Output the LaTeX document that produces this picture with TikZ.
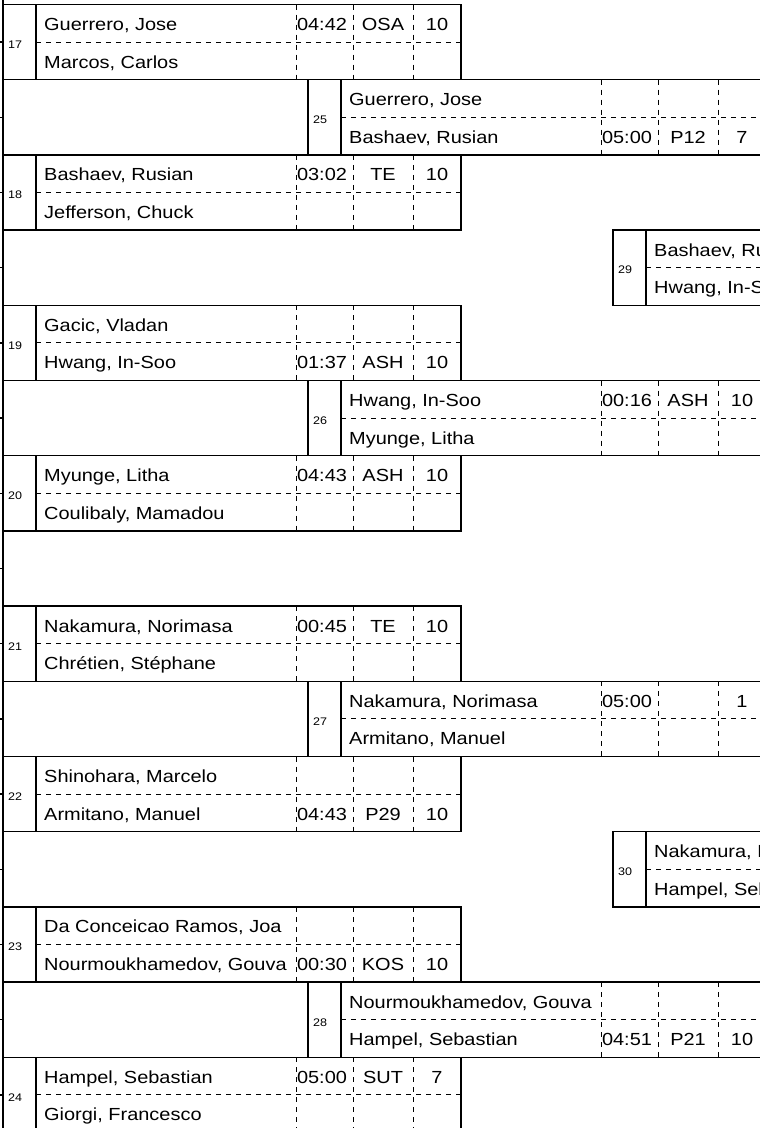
\documentclass[tikz,border=0pt]{standalone}
\usepackage{fontspec}
\setmainfont[FakeStretch=1.14]{Liberation Sans}
\tikzset{
  frame/.style={line width=1.3pt, line cap=rect},
  divline/.style={line width=0.9pt, dash pattern=on 5pt off 5pt},
  nm/.style={anchor=base west, inner sep=0pt, font=\fontsize{17.5}{20}\selectfont},
  cell/.style={anchor=base, inner sep=0pt, font=\fontsize{17.5}{20}\selectfont},
  numlab/.style={anchor=west, inner sep=0pt, font=\fontsize{11}{13}\selectfont},
}
% row, left x, number
\newcommand\matchbox[3]{%
  \pgfmathsetmacro\yt{4.5+75.2*#1}%
  \pgfmathsetmacro\yb{\yt+75.2}%
  \pgfmathsetmacro\ym{\yt+37.6}%
  \pgfmathsetmacro\xl{#2}%
  \draw[frame] (\xl,\yt) rectangle ({\xl+458},\yb);
  \draw[frame] ({\xl+33},\yt) -- ({\xl+33},\yb);
  \draw[divline] ({\xl+33},\ym) -- ({\xl+458},\ym);
  \foreach \c in {293,350,410} {\draw[divline] ({\xl+\c},\yt) -- ({\xl+\c},\yb);}
  \node[numlab] (num#3) at ({\xl+5},{\ym+2.5}) {#3};
}
% row: empty cell left of a second-round box
\newcommand\emptycell[2]{%
  \pgfmathsetmacro\yt{4.5+75.2*#1}%
  \pgfmathsetmacro\yb{\yt+75.2}%
  \draw[frame] (3,\yt) rectangle (#2,\yb);
}
% row, left x, id, top name, bottom name
\newcommand\names[5]{%
  \pgfmathsetmacro\yt{4.5+75.2*#1}%
  \node[nm] (#3t) at ({#2+41},{\yt+26}) {#4};
  \node[nm] (#3b) at ({#2+41},{\yt+63.5}) {#5};
}
% row, left x, half (0 top / 1 bottom), id, time, code, score
\newcommand\result[7]{%
  \pgfmathsetmacro\yr{4.5+75.2*#1+26+37.5*#3}%
  \node[cell] (#4tm) at ({#2+319},\yr) {#5};
  \node[cell] (#4cd) at ({#2+380},\yr) {#6};
  \node[cell] (#4sc) at ({#2+434},\yr) {#7};
}
\begin{document}
\begin{tikzpicture}[x=1pt,y=-1pt]
\useasboundingbox (0,0) rectangle (760,1128);
\draw[frame] (3,0) -- (3,1128);
\foreach \k in {0,...,14} {\draw[frame] (0,{4.5+75.2*\k+37.6}) -- (3,{4.5+75.2*\k+37.6});}

% round 1
\matchbox{0}{3}{17}
\names{0}{3}{m17}{Guerrero, Jose}{Marcos, Carlos}
\result{0}{3}{0}{m17}{04:42}{OSA}{10}

\matchbox{2}{3}{18}
\names{2}{3}{m18}{Bashaev, Rusian}{Jefferson, Chuck}
\result{2}{3}{0}{m18}{03:02}{TE}{10}

\matchbox{4}{3}{19}
\names{4}{3}{m19}{Gacic, Vladan}{Hwang, In-Soo}
\result{4}{3}{1}{m19}{01:37}{ASH}{10}

\matchbox{6}{3}{20}
\names{6}{3}{m20}{Myunge, Litha}{Coulibaly, Mamadou}
\result{6}{3}{0}{m20}{04:43}{ASH}{10}

\matchbox{8}{3}{21}
\names{8}{3}{m21}{Nakamura, Norimasa}{Chrétien, Stéphane}
\result{8}{3}{0}{m21}{00:45}{TE}{10}

\matchbox{10}{3}{22}
\names{10}{3}{m22}{Shinohara, Marcelo}{Armitano, Manuel}
\result{10}{3}{1}{m22}{04:43}{P29}{10}

\matchbox{12}{3}{23}
\names{12}{3}{m23}{Da Conceicao Ramos, Joa}{Nourmoukhamedov, Gouva}
\result{12}{3}{1}{m23}{00:30}{KOS}{10}

\matchbox{14}{3}{24}
\names{14}{3}{m24}{Hampel, Sebastian}{Giorgi, Francesco}
\result{14}{3}{0}{m24}{05:00}{SUT}{7}

% round 2
\emptycell{1}{308}
\matchbox{1}{308}{25}
\names{1}{308}{m25}{Guerrero, Jose}{Bashaev, Rusian}
\result{1}{308}{1}{m25}{05:00}{P12}{7}

\emptycell{5}{308}
\matchbox{5}{308}{26}
\names{5}{308}{m26}{Hwang, In-Soo}{Myunge, Litha}
\result{5}{308}{0}{m26}{00:16}{ASH}{10}

\emptycell{9}{308}
\matchbox{9}{308}{27}
\names{9}{308}{m27}{Nakamura, Norimasa}{Armitano, Manuel}
\result{9}{308}{0}{m27}{05:00}{}{1}

\emptycell{13}{308}
\matchbox{13}{308}{28}
\names{13}{308}{m28}{Nourmoukhamedov, Gouva}{Hampel, Sebastian}
\result{13}{308}{1}{m28}{04:51}{P21}{10}

% round 3
\matchbox{3}{613}{29}
\names{3}{613}{m29}{Bashaev, Rusian}{Hwang, In-Soo}

\matchbox{11}{613}{30}
\names{11}{613}{m30}{Nakamura, Norimasa}{Hampel, Sebastian}
\end{tikzpicture}
\end{document}
